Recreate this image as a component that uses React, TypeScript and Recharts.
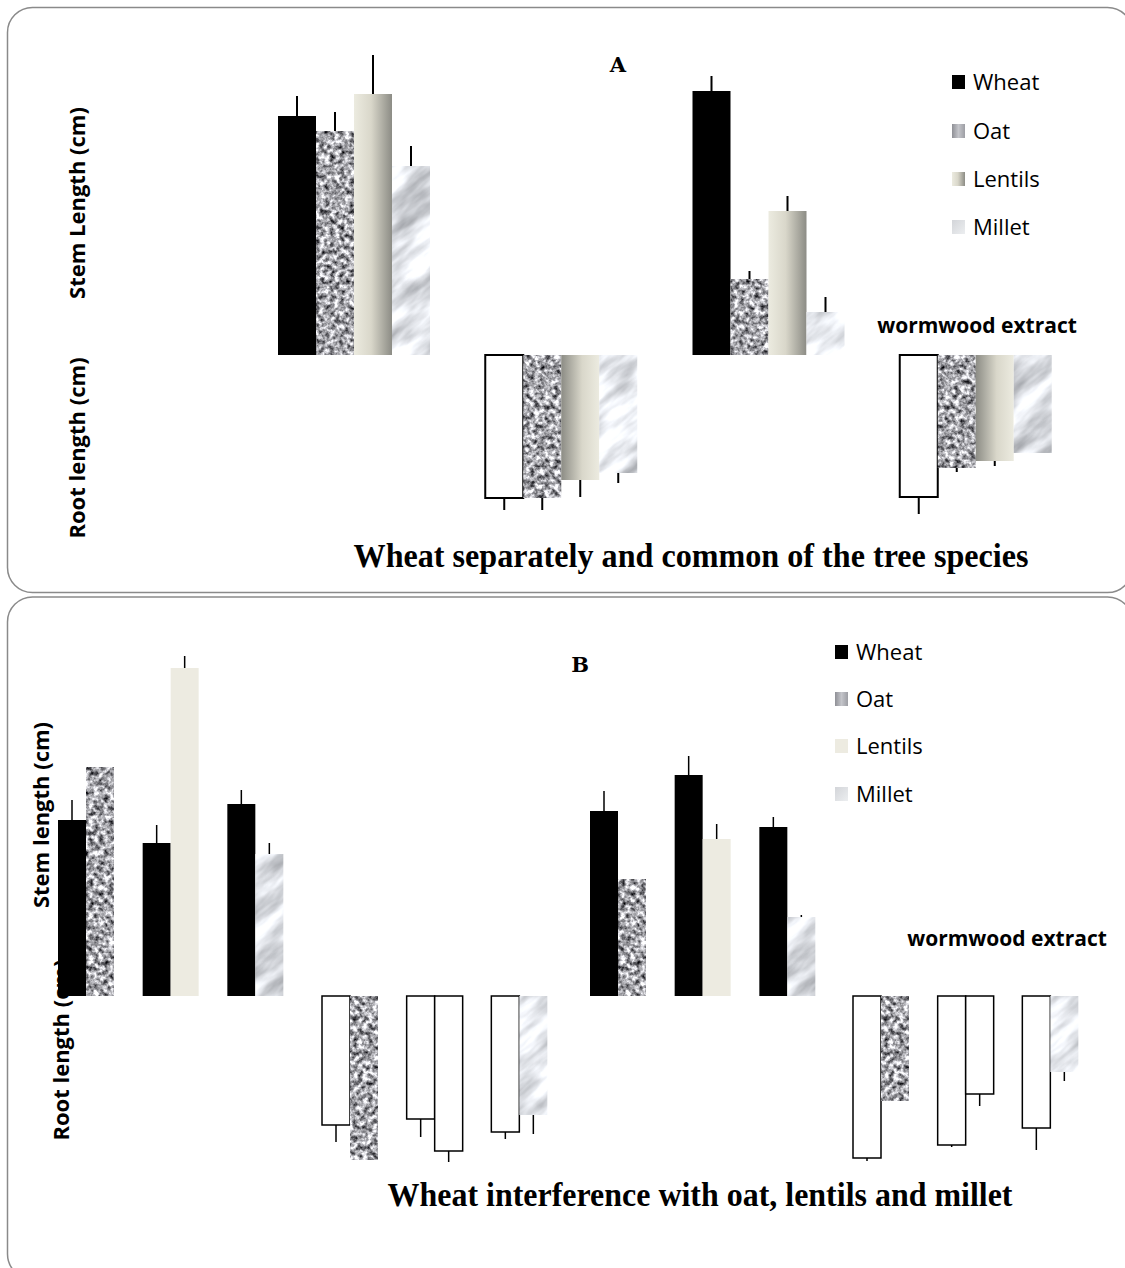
import React from "react";
import { Bar, BarChart, Cell, ErrorBar, XAxis, YAxis } from "recharts";

// Panel A: wheat grown separately and with each species (stem up, root down)
const groupsA = ["Control stem", "Control root", "Extract stem", "Extract root"];
const wheatA = [23.9, -14.3, 26.4, -14.2];
const wheatErrA = [2.0, 1.2, 1.5, 1.7];
const oatA = [22.4, -14.3, 7.6, -11.3];
const oatErrA = [1.9, 1.2, 0.8, 0.4];
const lentilsA = [26.1, -12.5, 14.4, -10.6];
const lentilsErrA = [4.2, 1.7, 1.5, 0.5];
const milletA = [18.9, -11.8, 4.3, -9.8];
const milletErrA = [2.0, 1.0, 1.5, 0];

// Panel B: wheat interference, wheat bar + partner species bar in each group
const groupsB = [
  "C oat stem", "C lentils stem", "C millet stem",
  "C oat root", "C lentils root", "C millet root",
  "E oat stem", "E lentils stem", "E millet stem",
  "E oat root", "E lentils root", "E millet root",
];
const partnerB = [
  "Oat", "Lentils", "Millet", "Oat", "Lentils", "Millet",
  "Oat", "Lentils", "Millet", "Oat", "Lentils", "Millet",
];
const wheatB = [17.6, 15.3, 19.2, -12.9, -12.3, -13.6, 18.5, 22.1, 16.9, -16.2, -14.9, -13.2];
const wheatErrB = [2.0, 1.8, 1.4, 1.7, 1.8, 0.7, 2.0, 1.9, 1.0, 0.3, 0.2, 2.2];
const partnerValB = [22.9, 32.8, 14.2, -16.4, -15.5, -11.9, 11.7, 15.7, 7.9, -10.5, -9.8, -7.6];
const partnerErrB = [0, 1.2, 1.1, 0, 1.1, 1.9, 0, 1.5, 0.2, 0, 1.2, 0.9];

const species = ["Wheat", "Oat", "Lentils", "Millet"];

// error bars only point away from the baseline
const outward = (v: number, e: number) => (v >= 0 ? [0, e] : [e, 0]);

const dataA = groupsA.map((name, i) => ({
  name,
  wheat: wheatA[i],
  wheatErr: outward(wheatA[i], wheatErrA[i]),
  oat: oatA[i],
  oatErr: outward(oatA[i], oatErrA[i]),
  lentils: lentilsA[i],
  lentilsErr: outward(lentilsA[i], lentilsErrA[i]),
  millet: milletA[i],
  milletErr: outward(milletA[i], milletErrA[i]),
}));

const dataB = groupsB.map((name, i) => ({
  name,
  partner: partnerB[i],
  wheat: wheatB[i],
  wheatErr: outward(wheatB[i], wheatErrB[i]),
  other: partnerValB[i],
  otherErr: outward(partnerValB[i], partnerErrB[i]),
}));

// panel B is drawn as four blocks of three groups (slightly wider gap between blocks)
const blocksB = [0, 1, 2, 3].map((b) => dataB.slice(b * 3, b * 3 + 3));
const blockLeftB = [44, 308, 576, 839];

const sans = "'Open Sans', 'Noto Sans', sans-serif";
const serif = "'Liberation Serif', 'Times New Roman', serif";

function Textures() {
  return (
    <svg width={0} height={0} style={{ position: "absolute" }}>
      <defs>
        <filter id="oatNoise" x="0" y="0" width="100%" height="100%" colorInterpolationFilters="sRGB">
          <feTurbulence type="fractalNoise" baseFrequency="0.2" numOctaves={3} seed={7} stitchTiles="stitch" />
          <feColorMatrix
            type="matrix"
            values="1.7 0 0 0 -0.2  1.7 0 0 0 -0.2  1.7 0 0 0 -0.18  0 0 0 0 1"
          />
        </filter>
        <filter id="milletNoise" x="0" y="0" width="100%" height="100%" colorInterpolationFilters="sRGB">
          <feTurbulence type="fractalNoise" baseFrequency="0.014 0.05" numOctaves={4} seed={11} stitchTiles="stitch" />
          <feColorMatrix
            type="matrix"
            values="0.8 0 0 0 0.5  0.8 0 0 0 0.51  0.8 0 0 0 0.53  0 0 0 0 1"
          />
        </filter>
        <pattern id="oatFill" patternUnits="userSpaceOnUse" width={400} height={400}>
          <rect width={400} height={400} fill="#999" filter="url(#oatNoise)" />
        </pattern>
        <pattern id="milletFill" patternUnits="userSpaceOnUse" width={400} height={400} patternTransform="rotate(-40)">
          <rect width={400} height={400} fill="#ddd" filter="url(#milletNoise)" />
        </pattern>
        <linearGradient id="lentilsUp" x1="0" y1="0" x2="1" y2="0">
          <stop offset="0" stopColor="#ecebe0" />
          <stop offset="0.45" stopColor="#d9d7ca" />
          <stop offset="1" stopColor="#8c8c85" />
        </linearGradient>
        <linearGradient id="lentilsDown" x1="0" y1="0" x2="1" y2="0">
          <stop offset="0" stopColor="#8c8c85" />
          <stop offset="0.55" stopColor="#d9d7ca" />
          <stop offset="1" stopColor="#ecebe0" />
        </linearGradient>
        <linearGradient id="oatSwatch" x1="0" y1="0" x2="1" y2="0">
          <stop offset="0" stopColor="#8f9096" />
          <stop offset="0.5" stopColor="#c4c5ca" />
          <stop offset="1" stopColor="#9d9ea4" />
        </linearGradient>
        <linearGradient id="milletSwatch" x1="0" y1="0" x2="1" y2="1">
          <stop offset="0" stopColor="#d3d5d9" />
          <stop offset="1" stopColor="#eceef0" />
        </linearGradient>
      </defs>
    </svg>
  );
}

function PanelA() {
  const err = (key: string) => (
    <ErrorBar dataKey={key} width={0} stroke="#000" strokeWidth={2} direction="y" />
  );
  return (
    <div style={{ position: "absolute", left: 250, top: 55 }}>
      <BarChart width={829} height={500} data={dataA} barGap={0} barSize={38} margin={{ top: 0, right: 0, bottom: 0, left: 0 }}>
        <XAxis dataKey="name" hide />
        <YAxis hide domain={[-20, 30]} allowDataOverflow />
        <Bar dataKey="wheat" isAnimationActive={false}>
          {dataA.map((d, i) => (
            <Cell key={i} fill={d.wheat < 0 ? "#fff" : "#000"} stroke="#000" strokeWidth={d.wheat < 0 ? 2 : 0} />
          ))}
          {err("wheatErr")}
        </Bar>
        <Bar dataKey="oat" fill="url(#oatFill)" isAnimationActive={false}>
          {err("oatErr")}
        </Bar>
        <Bar dataKey="lentils" isAnimationActive={false}>
          {dataA.map((d, i) => (
            <Cell key={i} fill={d.lentils < 0 ? "url(#lentilsDown)" : "url(#lentilsUp)"} />
          ))}
          {err("lentilsErr")}
        </Bar>
        <Bar dataKey="millet" fill="url(#milletFill)" isAnimationActive={false}>
          {err("milletErr")}
        </Bar>
      </BarChart>
    </div>
  );
}

const fillB: Record<string, string> = {
  Oat: "url(#oatFill)",
  Lentils: "#edebe1",
  Millet: "url(#milletFill)",
};

function PanelB() {
  return (
    <>
      {blocksB.map((rows, b) => (
        <div key={b} style={{ position: "absolute", left: blockLeftB[b], top: 636 }}>
          <BarChart width={254} height={560} data={rows} barGap={0} barSize={28} margin={{ top: 0, right: 0, bottom: 0, left: 0 }}>
            <XAxis dataKey="name" hide />
            <YAxis hide domain={[-20, 36]} allowDataOverflow />
            <Bar dataKey="wheat" isAnimationActive={false}>
              {rows.map((d, i) => (
                <Cell key={i} fill={d.wheat < 0 ? "#fff" : "#000"} stroke="#000" strokeWidth={d.wheat < 0 ? 1.5 : 0} />
              ))}
              <ErrorBar dataKey="wheatErr" width={0} stroke="#000" strokeWidth={1.5} direction="y" />
            </Bar>
            <Bar dataKey="other" isAnimationActive={false}>
              {rows.map((d, i) => {
                const whiteRoot = d.partner === "Lentils" && d.other < 0;
                return (
                  <Cell
                    key={i}
                    fill={whiteRoot ? "#fff" : fillB[d.partner]}
                    stroke="#000"
                    strokeWidth={whiteRoot ? 1.5 : 0}
                  />
                );
              })}
              <ErrorBar dataKey="otherErr" width={0} stroke="#000" strokeWidth={1.5} direction="y" />
            </Bar>
          </BarChart>
        </div>
      ))}
    </>
  );
}

function LegendRows({ x, ys, fills }: { x: number; ys: number[]; fills: string[] }) {
  return (
    <g>
      {species.map((s, i) => (
        <g key={s}>
          <rect x={x} y={ys[i] - 7} width={13} height={14} fill={fills[i]} />
          <text x={x + 21} y={ys[i] + 8} fontFamily={sans} fontSize={22} fill="#000">
            {s}
          </text>
        </g>
      ))}
    </g>
  );
}

function Overlay() {
  const rotated = (text: string, cx: number, cy: number) => (
    <text
      x={cx}
      y={cy}
      transform={`rotate(-90 ${cx} ${cy})`}
      textAnchor="middle"
      dominantBaseline="central"
      fontFamily={sans}
      fontWeight={700}
      fontSize={22}
      fill="#000"
    >
      {text}
    </text>
  );
  return (
    <svg width={1125} height={1268} style={{ position: "absolute", left: 0, top: 0 }}>
      <rect x={7.5} y={7.5} width={1125} height={585} rx={25} fill="none" stroke="#8a8a8a" strokeWidth={1.5} />
      <rect x={7.5} y={597} width={1125} height={682} rx={25} fill="none" stroke="#8a8a8a" strokeWidth={1.5} />

      <text x={618} y={72} textAnchor="middle" fontFamily="'DejaVu Serif', serif" fontWeight={700} fontSize={21}>
        A
      </text>
      {rotated("Stem Length (cm)", 76, 203)}
      {rotated("Root length (cm)", 76, 448)}
      <LegendRows x={952} ys={[82, 131, 179, 227]} fills={["#000", "url(#oatSwatch)", "url(#lentilsUp)", "url(#milletSwatch)"]} />
      <text x={977} y={333} textAnchor="middle" fontFamily={sans} fontWeight={700} fontSize={21}>
        wormwood extract
      </text>
      <text x={691} y={567} textAnchor="middle" fontFamily={serif} fontWeight={700} fontSize={33} textLength={675} lengthAdjust="spacingAndGlyphs">
        Wheat separately and common of the tree species
      </text>

      <text x={580} y={672} textAnchor="middle" fontFamily="'DejaVu Serif', serif" fontWeight={700} fontSize={21}>
        B
      </text>
      {rotated("Stem length (cm)", 40, 815)}
      {rotated("Root length (cm)", 60, 1050)}
      <LegendRows x={835} ys={[652, 699, 746, 794]} fills={["#000", "url(#oatSwatch)", "#edebe1", "url(#milletSwatch)"]} />
      <text x={1007} y={946} textAnchor="middle" fontFamily={sans} fontWeight={700} fontSize={21}>
        wormwood extract
      </text>
      <text x={700} y={1206} textAnchor="middle" fontFamily={serif} fontWeight={700} fontSize={33} textLength={625} lengthAdjust="spacingAndGlyphs">
        Wheat interference with oat, lentils and millet
      </text>
    </svg>
  );
}

export default function App() {
  return (
    <div style={{ position: "absolute", left: 0, top: 0, width: 1125, height: 1268, overflow: "hidden", background: "#fff" }}>
      <Textures />
      <PanelA />
      <PanelB />
      <Overlay />
    </div>
  );
}
